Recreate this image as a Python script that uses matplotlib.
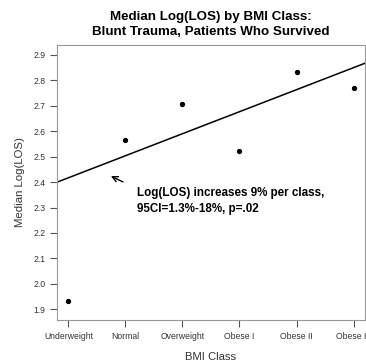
import matplotlib
matplotlib.use('Agg')
import matplotlib.pyplot as plt

klasy = ['Underweight', 'Normal', 'Overweight', 'Obese I', 'Obese II', 'Obese III']
mediana = [1.931, 2.565, 2.708, 2.523, 2.832, 2.771]
wyraz_wolny = 2.417   # regression line at Underweight
nachylenie = 0.0865   # per BMI class
y_ticks = [1.9, 2.0, 2.1, 2.2, 2.3, 2.4, 2.5, 2.6, 2.7, 2.8, 2.9]

plt.rcParams['font.family'] = ['Liberation Sans', 'DejaVu Sans']

fig = plt.figure(figsize=(3.66, 3.62), dpi=100)
ax = fig.add_axes([0.156, 0.116, 0.841, 0.760])

x = list(range(len(klasy)))
ax.plot(x, mediana, 'o', color='black', markersize=2.8)
ax.axline((0, wyraz_wolny), slope=nachylenie, color='black', linewidth=1.1)

ax.set_xlim(-0.2, 5.2)
ax.set_ylim(1.858, 2.939)
ax.set_xticks(x)
ax.set_xticklabels(klasy, fontsize=6.2, color='#333333')
ax.set_yticks(y_ticks)
ax.set_yticklabels(['%.1f' % v for v in y_ticks], fontsize=6.2, color='#333333')
ax.tick_params(length=5, width=0.8, color='#555555', pad=3.5)
for s in ax.spines.values():
    s.set_color('#999999')
    s.set_linewidth(0.8)

ax.set_xlabel('BMI Class', fontsize=8.1, color='#333333', labelpad=8)
ax.set_ylabel('Median Log(LOS)', fontsize=8.2, color='#333333', labelpad=6)
ax.set_title('Median Log(LOS) by BMI Class:\nBlunt Trauma, Patients Who Survived',
             fontsize=9.6, fontweight='bold', pad=7, linespacing=1.35)

ax.annotate('', xy=(0.70, 2.428), xytext=(1.0, 2.396),
            arrowprops=dict(arrowstyle='->', color='black', lw=1.0))
ax.text(1.21, 2.381, 'Log(LOS) increases 9% per class,\n95CI=1.3%-18%, p=.02',
        fontsize=8.4, fontweight='bold', va='top', ha='left', linespacing=1.4)

fig.savefig('out.png', dpi=100)
